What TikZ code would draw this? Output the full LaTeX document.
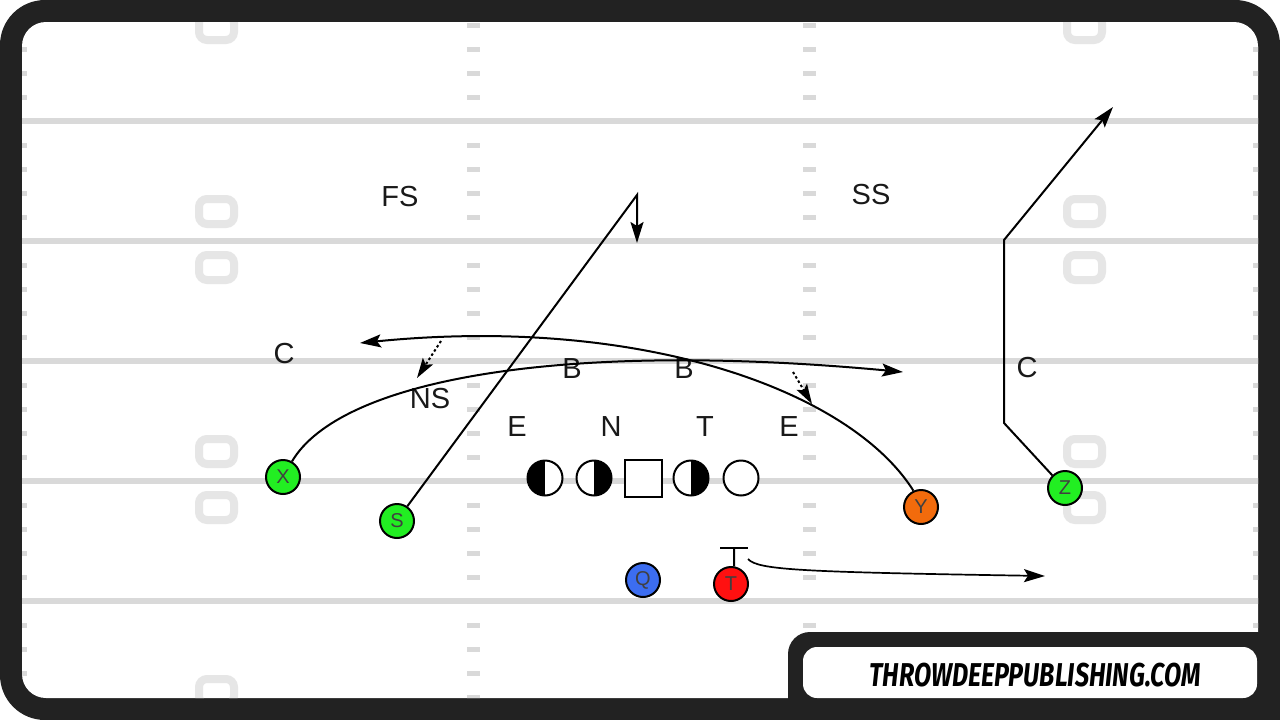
\documentclass[tikz,border=0pt]{standalone}
\usepackage{fontspec}
\setmainfont{Liberation Sans}
\newfontfamily\logofont[FakeStretch=0.76]{Fira Sans}
\usetikzlibrary{arrows.meta}

\definecolor{framegray}{HTML}{222222}
\definecolor{yardline}{HTML}{D9D9D9}
\definecolor{yardnum}{HTML}{E6E6E6}
\definecolor{wrgreen}{HTML}{22EE22}
\definecolor{qbblue}{HTML}{3C6DF0}
\definecolor{tbred}{HTML}{FF1010}
\definecolor{teorange}{HTML}{F26B0C}

\tikzset{
  player/.style={circle, draw, line width=2pt, minimum size=34pt, inner sep=0pt,
    font=\fontsize{20}{20}\selectfont, text=black!75},
  lineman/.style={circle, draw, line width=2pt, minimum size=35pt, inner sep=0pt, fill=white},
  lhalf/.style={lineman, path picture={\fill[black] (path picture bounding box.north west) rectangle (path picture bounding box.south);}},
  rhalf/.style={lineman, path picture={\fill[black] (path picture bounding box.north east) rectangle (path picture bounding box.south);}},
  snapbox/.style={draw, line width=2pt, minimum size=37pt, inner sep=0pt, fill=white},
  dlabel/.style={font=\fontsize{29}{29}\selectfont, text=black!90, inner sep=0pt},
  route/.style={line width=2pt, -{Stealth[length=21pt,width=13pt,inset=4pt]}},
  stunt/.style={line width=2pt, dash pattern=on 2.5pt off 2.5pt, -{Stealth[length=20pt,width=12pt,inset=4pt]}},
  hash/.style={yardline, line width=5pt},
  numbox/.style={yardnum, line width=8pt, rounded corners=8pt},
}

\begin{document}
\begin{tikzpicture}[x=1pt, y=-1pt]
    % image from (0,0) to (1280,720), y down
    \useasboundingbox (0,0) rectangle (1280,720);
    \fill[white] (0,0) rectangle (1280,720);

    % Frame
    \fill[framegray, rounded corners=45pt] (0,0) rectangle (1280,720);
    \fill[white, rounded corners=24pt] (22,22) rectangle (1258,698);

    % Field
    \begin{scope}
        \clip[rounded corners=24pt] (22,22) rectangle (1258,698);
        % yard lines
        \foreach \l in {121,241,361,481,601}
            \draw[yardline, line width=6.5pt] (0,\l) -- (1280,\l);
        % hash marks, one per yard
        \foreach \l in {1,121,241,361,481,601}
            \foreach \k in {24,48,72,96} {
                \draw[hash] (14,\l+\k) -- (27,\l+\k);
                \draw[hash] (467,\l+\k) -- (480,\l+\k);
                \draw[hash] (803,\l+\k) -- (816,\l+\k);
                \draw[hash] (1253,\l+\k) -- (1266,\l+\k);
            }
        % yard numbers
        \foreach \l in {1,241,481,721}
            \foreach \x in {199,1067} {
                \draw[numbox] (\x,\l-42) rectangle ++(35,25);
                \draw[numbox] (\x,\l+14) rectangle ++(35,25);
            }
    \end{scope}

    % Offense
    \node[player, fill=wrgreen] (X) at (283,477) {X};
    \node[player, fill=wrgreen] (S) at (397,521) {S};
    \node[player, fill=qbblue] (Q) at (643,580) {Q};
    \node[player, fill=tbred] (T) at (731,584) {T};
    \node[player, fill=teorange] (Y) at (921,507) {Y};
    \node[player, fill=wrgreen] (Z) at (1065,488) {Z};

    % Offensive line
    \node[lhalf] (lt) at (545,478) {};
    \node[rhalf] (lg) at (594,478) {};
    \node[snapbox] (ctr) at (643,478) {};
    \node[rhalf] (rg) at (691,478) {};
    \node[lineman] (rt) at (741,478) {};

    % Defense
    \node[dlabel] (fs) at (400,197) {FS};
    \node[dlabel] (ss) at (871,195) {SS};
    \node[dlabel] (cl) at (284,354) {C};
    \node[dlabel] (cr) at (1027,368) {C};
    \node[dlabel] (ns) at (430,399) {NS};
    \node[dlabel] (bl) at (572,369) {B};
    \node[dlabel] (br) at (684,369) {B};
    \node[dlabel] (el) at (517,427) {E};
    \node[dlabel] (nt) at (611,427) {N};
    \node[dlabel] (tk) at (705,427) {T};
    \node[dlabel] (er) at (789,427) {E};

    % Route points
    \coordinate (xend) at (903,372);
    \coordinate (yend) at (360,343);
    \coordinate (sbreak) at (637,195);
    \coordinate (send) at (637,243);
    \coordinate (zcut) at (1004,423);
    \coordinate (zstem) at (1004,240);
    \coordinate (zend) at (1113,107);
    \coordinate (tblock) at (734,548);
    \coordinate (tstart) at (748,559);
    \coordinate (tend) at (1045,576);

    % Routes
    \draw[route] (X.60) .. controls (340,380) and (560,340) .. (xend);
    \draw[route] (Y.115) .. controls (850,390) and (640,315) .. (yend);
    \draw[route] (S.55) -- (sbreak) -- (send);
    \draw[route] (Z.135) -- (zcut) -- (zstem) -- (zend);
    \draw[line width=2pt] (T.80) -- (tblock);
    \draw[line width=2pt] ([xshift=-14pt]tblock) -- ([xshift=14pt]tblock);
    \draw[route, line width=1.7pt] (tstart) .. controls (758,570) and (800,572) .. (tend);

    % Stunts
    \coordinate (nsfrom) at (441,341);
    \coordinate (nsto) at (417,378);
    \coordinate (efrom) at (793,372);
    \coordinate (eto) at (812,404);
    \draw[stunt] (nsfrom) -- (nsto);
    \draw[stunt] (efrom) -- (eto);

    % Logo
    \fill[framegray, rounded corners=22pt] (788,632) rectangle (1280,740);
    \fill[white, rounded corners=14pt] (803,647) rectangle (1257,698);
    \node[font=\logofont\bfseries\itshape\fontsize{33}{33}\selectfont, inner sep=0pt] (logo) at (1035,675) {THROWDEEPPUBLISHING.COM};
\end{tikzpicture}
\end{document}
